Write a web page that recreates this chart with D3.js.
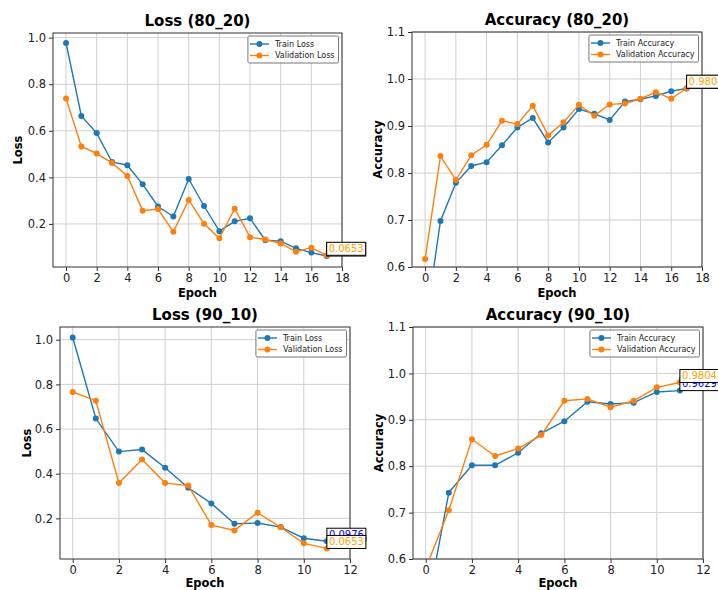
<!DOCTYPE html>
<meta charset="utf-8">
<script src="https://d3js.org/d3.v7.min.js"></script>
<style>
  body { margin: 0; background: white; }
  text { font-family: "DejaVu Sans", sans-serif; }
</style>
<div id="chart"></div>
<script>
  // epochs and values
  const epochs80 = [0, 1, 2, 3, 4, 5, 6, 7, 8, 9, 10, 11, 12, 13, 14, 15, 16, 17];
  const epochs90 = [0, 1, 2, 3, 4, 5, 6, 7, 8, 9, 10, 11];

  const trainLoss80 = [0.977, 0.664, 0.590, 0.466, 0.452, 0.370, 0.275, 0.232, 0.393, 0.277, 0.169, 0.211, 0.224, 0.130, 0.126, 0.095, 0.077, 0.062];
  const valLoss80 = [0.739, 0.533, 0.502, 0.462, 0.406, 0.257, 0.264, 0.166, 0.303, 0.201, 0.138, 0.265, 0.143, 0.133, 0.116, 0.081, 0.098, 0.0653];
  const trainAcc80 = [0.47, 0.698, 0.779, 0.815, 0.823, 0.859, 0.897, 0.917, 0.865, 0.897, 0.936, 0.926, 0.913, 0.952, 0.957, 0.964, 0.974, 0.9800];
  const valAcc80 = [0.617, 0.836, 0.785, 0.838, 0.860, 0.911, 0.904, 0.943, 0.880, 0.908, 0.945, 0.922, 0.946, 0.948, 0.958, 0.972, 0.958, 0.9804];

  const trainLoss90 = [1.010, 0.647, 0.499, 0.508, 0.427, 0.337, 0.267, 0.176, 0.179, 0.161, 0.111, 0.0976];
  const valLoss90 = [0.766, 0.727, 0.358, 0.464, 0.358, 0.347, 0.170, 0.146, 0.225, 0.160, 0.088, 0.0653];
  const trainAcc90 = [0.48, 0.743, 0.802, 0.802, 0.829, 0.871, 0.897, 0.939, 0.934, 0.937, 0.960, 0.9629];
  const valAcc90 = [0.58, 0.705, 0.858, 0.822, 0.838, 0.867, 0.941, 0.945, 0.927, 0.941, 0.970, 0.9804];

  const xTicks80 = [0, 2, 4, 6, 8, 10, 12, 14, 16, 18];
  const xTicks90 = [0, 2, 4, 6, 8, 10, 12];
  const lossTicks = [0.2, 0.4, 0.6, 0.8, 1.0];
  const accTicks = [0.6, 0.7, 0.8, 0.9, 1.0, 1.1];

  const blue = "#1f77b4", orange = "#ff7f0e";

  const svg = d3.select("#chart")
    .append("svg")
    .attr("width", 718)
    .attr("height", 590);

  const panels = [
    { id: "p1", title: "Loss (80_20)", ylab: "Loss", epochs: epochs80, train: trainLoss80, val: valLoss80,
      names: ["Train Loss", "Validation Loss"], xTicks: xTicks80, yTicks: lossTicks,
      xdom: [-0.85, 18], ydom: [0.015, 1.02], left: 53, right: 342, top: 33, bottom: 267, ylabX: 22, xlabDy: 29.5 },
    { id: "p2", title: "Accuracy (80_20)", ylab: "Accuracy", epochs: epochs80, train: trainAcc80, val: valAcc80,
      names: ["Train Accuracy", "Validation Accuracy"], xTicks: xTicks80, yTicks: accTicks,
      xdom: [-0.85, 18], ydom: [0.6, 1.1], left: 412, right: 702, top: 32, bottom: 267, ylabX: 382, xlabDy: 29.5 },
    { id: "p3", title: "Loss (90_10)", ylab: "Loss", epochs: epochs90, train: trainLoss90, val: valLoss90,
      names: ["Train Loss", "Validation Loss"], xTicks: xTicks90, yTicks: lossTicks,
      xdom: [-0.55, 12], ydom: [0.018, 1.057], left: 60, right: 350, top: 327, bottom: 559, ylabX: 31, xlabDy: 27.5 },
    { id: "p4", title: "Accuracy (90_10)", ylab: "Accuracy", epochs: epochs90, train: trainAcc90, val: valAcc90,
      names: ["Train Accuracy", "Validation Accuracy"], xTicks: xTicks90, yTicks: accTicks,
      xdom: [-0.55, 12], ydom: [0.6, 1.1], left: 413, right: 703, top: 327, bottom: 559, ylabX: 383, xlabDy: 27.5 }
  ];

  panels.forEach(function (p) {
    const x = d3.scaleLinear().domain(p.xdom).range([p.left, p.right]);
    const y = d3.scaleLinear().domain(p.ydom).range([p.bottom, p.top]);
    const g = svg.append("g");

    g.append("clipPath").attr("id", "clip-" + p.id)
      .append("rect")
      .attr("x", p.left).attr("y", p.top)
      .attr("width", p.right - p.left).attr("height", p.bottom - p.top);

    // grid
    g.append("g")
      .selectAll("line")
      .data(p.xTicks)
      .join("line")
      .attr("x1", d => x(d)).attr("x2", d => x(d))
      .attr("y1", p.top).attr("y2", p.bottom)
      .attr("stroke", "#d0d0d0").attr("stroke-width", 1);
    g.append("g")
      .selectAll("line")
      .data(p.yTicks)
      .join("line")
      .attr("x1", p.left).attr("x2", p.right)
      .attr("y1", d => y(d)).attr("y2", d => y(d))
      .attr("stroke", "#d0d0d0").attr("stroke-width", 1);

    // axes
    const xAxis = g.append("g")
      .attr("transform", `translate(0,${p.bottom})`)
      .call(d3.axisBottom(x).tickValues(p.xTicks).tickFormat(d3.format("d")).tickSize(4).tickPadding(3));
    const yAxis = g.append("g")
      .attr("transform", `translate(${p.left},0)`)
      .call(d3.axisLeft(y).tickValues(p.yTicks).tickFormat(d3.format(".1f")).tickSize(4).tickPadding(3));
    [xAxis, yAxis].forEach(a => {
      a.select(".domain").remove();
      a.selectAll(".tick line").attr("stroke", "#333");
      a.selectAll(".tick text")
        .attr("fill", "#222")
        .style("font-size", "11.5px")
        .style("font-family", "DejaVu Sans");
    });

    // frame
    g.append("rect")
      .attr("x", p.left).attr("y", p.top)
      .attr("width", p.right - p.left).attr("height", p.bottom - p.top)
      .attr("fill", "none").attr("stroke", "#333").attr("stroke-width", 1);

    // lines
    const plot = g.append("g").attr("clip-path", `url(#clip-${p.id})`);
    const line = d3.line().x((d, i) => x(p.epochs[i])).y(d => y(d));
    [[p.train, blue], [p.val, orange]].forEach(function (s) {
      plot.append("path")
        .datum(s[0])
        .attr("d", line)
        .attr("fill", "none")
        .attr("stroke", s[1])
        .attr("stroke-width", 1.4);
      plot.append("g")
        .selectAll("circle")
        .data(s[0])
        .join("circle")
        .attr("cx", (d, i) => x(p.epochs[i]))
        .attr("cy", d => y(d))
        .attr("r", 3)
        .attr("fill", s[1]);
    });

    // titles
    g.append("text")
      .attr("x", (p.left + p.right) / 2).attr("y", p.top - 7)
      .attr("text-anchor", "middle")
      .style("font-size", "15px").style("font-weight", "bold")
      .text(p.title);
    g.append("text")
      .attr("x", (p.left + p.right) / 2).attr("y", p.bottom + p.xlabDy)
      .attr("text-anchor", "middle")
      .style("font-size", "11.5px").style("font-weight", "bold")
      .text("Epoch");
    g.append("text")
      .attr("transform", `translate(${p.ylabX},${(p.top + p.bottom) / 2}) rotate(-90)`)
      .attr("text-anchor", "middle")
      .style("font-size", "11.5px").style("font-weight", "bold")
      .text(p.ylab);

    // legend
    const leg = g.append("g");
    const frame = leg.append("rect");
    let maxW = 0;
    [[p.names[0], blue], [p.names[1], orange]].forEach(function (s, i) {
      const ry = i * 11.5;
      leg.append("line")
        .attr("x1", 2).attr("x2", 21).attr("y1", ry).attr("y2", ry)
        .attr("stroke", s[1]).attr("stroke-width", 1.4);
      leg.append("circle").attr("cx", 11.5).attr("cy", ry).attr("r", 3).attr("fill", s[1]);
      const t = leg.append("text")
        .attr("x", 27).attr("y", ry).attr("dy", "0.35em")
        .style("font-size", "8px").attr("fill", "#222")
        .text(s[0]);
      maxW = Math.max(maxW, t.node().getComputedTextLength());
    });
    const lw = 27 + maxW + 4;
    frame.attr("x", 0).attr("y", -8).attr("width", lw).attr("height", 27)
      .attr("fill", "white").attr("fill-opacity", 0.85)
      .attr("stroke", "#777").attr("stroke-width", 1).attr("rx", 1.5);
    leg.attr("transform", `translate(${p.right - 3.5 - lw},${p.top + 3 + 8})`);

    // last-value annotations: train first, validation drawn on top
    const last = p.epochs.length - 1;
    [[p.train, "blue"], [p.val, "orange"]].forEach(function (s) {
      const px = x(p.epochs[last]), py = y(s[0][last]);
      const a = g.append("g");
      const box = a.append("rect");
      const t = a.append("text")
        .attr("x", px + 2).attr("y", py - 3.5)
        .style("font-size", "10px").attr("fill", s[1])
        .text(s[0][last].toFixed(4));
      const tw = t.node().getComputedTextLength();
      box.attr("x", px).attr("y", py - 13).attr("width", tw + 4).attr("height", 13)
        .attr("fill", "white").attr("stroke", "black").attr("stroke-width", 1);
    });
  });
</script>
